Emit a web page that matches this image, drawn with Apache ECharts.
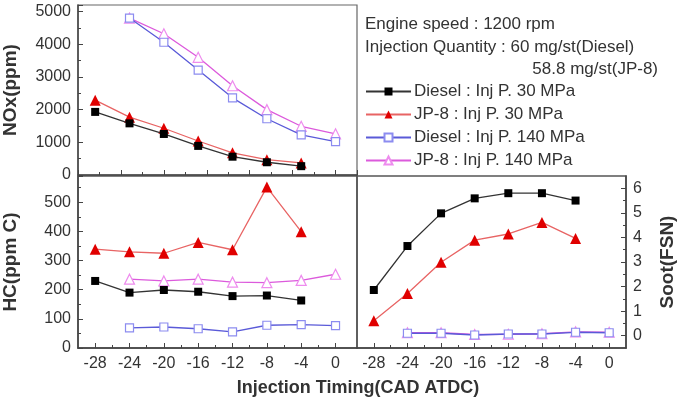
<!DOCTYPE html>
<html>
<head>
<meta charset="utf-8">
<script src="https://cdn.jsdelivr.net/npm/echarts@6/dist/echarts.min.js"></script>
<style>
html, body { margin: 0; padding: 0; background: #fff; }
#main { width: 678px; height: 400px; }
</style>
</head>
<body>
<div id="main"></div>
<script>
// injection timing (CAD ATDC)
var timing30 = [-28, -24, -20, -16, -12, -8, -4];
var timing140 = [-24, -20, -16, -12, -8, -4, 0];
var timingTicks = [-28, -24, -20, -16, -12, -8, -4, 0];
var timingMinor = [-26, -22, -18, -14, -10, -6, -2];

// NOx (ppm)
var noxDiesel30 = [1930, 1580, 1255, 890, 560, 390, 270];
var noxJp30 = [2290, 1770, 1430, 1040, 680, 470, 370];
var noxDiesel140 = [4800, 4060, 3210, 2360, 1720, 1230, 1020];
var noxJp140 = [4800, 4320, 3600, 2730, 2000, 1490, 1260];

// HC (ppm C)
var hcDiesel30 = [230, 190, 199, 193, 178, 180, 163];
var hcJp30 = [339, 330, 325, 362, 337, 552, 399];
var hcDiesel140 = [69, 72, 66, 55, 78, 80, 77];
var hcJp140 = [236, 230, 236, 226, 224, 232, 253];

// Soot (FSN)
var sootDiesel30 = [1.86, 3.65, 4.98, 5.59, 5.80, 5.80, 5.50];
var sootJp30 = [0.61, 1.72, 2.99, 3.89, 4.14, 4.61, 3.96];
var sootDiesel140 = [0.10, 0.10, 0.03, 0.07, 0.07, 0.14, 0.12];
var sootJp140 = [0.12, 0.12, 0.05, 0.06, 0.08, 0.16, 0.14];
var sootTicks = [0, 1, 2, 3, 4, 5, 6];
var sootMinor = [0.5, 1.5, 2.5, 3.5, 4.5, 5.5];

var seriesNames = ['Diesel : Inj P. 30 MPa', 'JP-8 : Inj P. 30 MPa', 'Diesel : Inj P. 140 MPa', 'JP-8 : Inj P. 140 MPa'];

var FONT = 'Liberation Sans, Arial, sans-serif';

/* 线型与标记 */
var styles = [
	{ line: '#333333', symbol: 'rect', size: 8, fill: '#000000', border: '#000000' },
	{ line: '#e86464', symbol: 'triangle', size: 11, fill: '#e00000', border: '#e00000' },
	{ line: '#5a5ad8', symbol: 'rect', size: 8, fill: '#ffffff', border: '#8c8cf0' },
	{ line: '#dc5adc', symbol: 'triangle', size: 10, fill: '#ffffff', border: '#ee8cee' }
];

function pairs(xs, ys) {
	return xs.map(function(x, i) { return [x, ys[i]]; });
}

function makeSeries(k, xi, yi, xs, ys) {
	var s = styles[k];
	return {
		name: seriesNames[k],
		type: 'line',
		xAxisIndex: xi,
		yAxisIndex: yi,
		symbol: s.symbol,
		symbolSize: s.size,
		showAllSymbol: true,
		data: pairs(xs, ys),
		lineStyle: { color: s.line, width: 1.3 },
		itemStyle: { color: s.fill, borderColor: s.border, borderWidth: s.fill === '#ffffff' ? 1.2 : 0 },
		emphasis: { disabled: true },
		z: 3 + (3 - k)
	};
}

function plain(v) {
	return String(v);
}

var axisLine = { onZero: false, lineStyle: { color: '#444', width: 1.5 } };
var nameStyle = { color: '#333', fontSize: 19, fontFamily: FONT, fontWeight: 'bold' };

function majorX(grid, max, show) {
	return {
		type: 'value', gridIndex: grid, position: 'bottom', min: -30, max: max, interval: 2,
		axisLine: axisLine,
		axisTick: { inside: true, length: 5, customValues: timingTicks, lineStyle: { color: '#444' } },
		axisLabel: { show: show, customValues: timingTicks, margin: 8, color: '#333', fontSize: 16, fontFamily: FONT, formatter: plain },
		splitLine: { show: false }
	};
}
function minorX(grid, max) {
	return {
		type: 'value', gridIndex: grid, position: 'bottom', min: -30, max: max, interval: 2,
		axisLine: { show: false, onZero: false },
		axisTick: { inside: true, length: 3, customValues: timingMinor, lineStyle: { color: '#444' } },
		axisLabel: { show: false },
		splitLine: { show: false }
	};
}

var myChart = echarts.init(document.getElementById('main'));

var option = {
	animation: false,
	backgroundColor: '#fff',
	textStyle: { fontFamily: FONT },
	grid: [
		{ left: 75, top: 5, width: 282, height: 170, show: true, borderColor: '#666', borderWidth: 1.2 },
		{ left: 75, top: 176, width: 282, height: 172, show: true, borderColor: '#555', borderWidth: 1.5 },
		{ left: 357, top: 176, width: 280, height: 172, show: true, borderColor: '#555', borderWidth: 1.5 }
	],
	legend: {
		orient: 'vertical',
		left: 365,
		top: 83,
		padding: 0,
		itemWidth: 45,
		itemHeight: 10,
		itemGap: 6,
		data: seriesNames,
		selectedMode: false,
		textStyle: { color: '#333', fontSize: 17, lineHeight: 17, fontFamily: FONT, padding: [0, 0, 0, -2] }
	},
	xAxis: [
		{
			type: 'value', gridIndex: 0, position: 'bottom', min: -30, max: 2.5, interval: 5,
			axisLine: axisLine,
			axisTick: { inside: true, length: 5, lineStyle: { color: '#444' } },
			minorTick: { show: true, splitNumber: 2, length: 3, lineStyle: { color: '#444' } },
			axisLabel: { show: false },
			splitLine: { show: false }
		},
		majorX(1, 2.5, true),
		minorX(1, 2.5),
		majorX(2, 2, true),
		minorX(2, 2)
	],
	yAxis: [
		{
			type: 'value', gridIndex: 0, position: 'left', min: 0, max: 5200, interval: 1000,
			name: 'NOx(ppm)', nameLocation: 'middle', nameGap: 58, nameRotate: 90, nameTextStyle: nameStyle,
			axisLine: axisLine,
			axisTick: { inside: true, length: 5, lineStyle: { color: '#444' } },
			minorTick: { show: true, splitNumber: 2, length: 3, lineStyle: { color: '#444' } },
			axisLabel: { showMaxLabel: false, margin: 7, color: '#333', fontSize: 16, fontFamily: FONT, formatter: plain },
			splitLine: { show: false }
		},
		{
			type: 'value', gridIndex: 1, position: 'left', min: 0, max: 590, interval: 100,
			name: 'HC(ppm C)', nameLocation: 'middle', nameGap: 58, nameRotate: 90, nameTextStyle: nameStyle,
			axisLine: axisLine,
			axisTick: { inside: true, length: 5, lineStyle: { color: '#444' } },
			minorTick: { show: true, splitNumber: 2, length: 3, lineStyle: { color: '#444' } },
			axisLabel: { showMaxLabel: false, margin: 7, color: '#333', fontSize: 16, fontFamily: FONT, formatter: plain },
			splitLine: { show: false }
		},
		{
			type: 'value', gridIndex: 2, position: 'right', min: -0.5, max: 6.5, interval: 0.5,
			name: 'Soot(FSN)', nameLocation: 'middle', nameGap: 32, nameRotate: 90, nameTextStyle: nameStyle,
			axisLine: axisLine,
			axisTick: { inside: true, length: 5, customValues: sootTicks, lineStyle: { color: '#444' } },
			axisLabel: { customValues: sootTicks, margin: 7, color: '#333', fontSize: 16, fontFamily: FONT, formatter: plain },
			splitLine: { show: false }
		},
		{
			type: 'value', gridIndex: 2, position: 'right', min: -0.5, max: 6.5, interval: 0.5,
			axisLine: { show: false, onZero: false },
			axisTick: { inside: true, length: 3, customValues: sootMinor, lineStyle: { color: '#444' } },
			axisLabel: { show: false },
			splitLine: { show: false }
		}
	],
	graphic: [
		{ type: 'text', left: 365, top: 16, style: { text: 'Engine speed : 1200 rpm', fill: '#333', font: '17px ' + FONT } },
		{ type: 'text', left: 365, top: 39, style: { text: 'Injection Quantity : 60 mg/st(Diesel)', fill: '#333', font: '17px ' + FONT } },
		{ type: 'text', right: 20, top: 61, style: { text: '58.8 mg/st(JP-8)', fill: '#333', font: '17px ' + FONT } },
		{ type: 'text', x: 358, y: 388, style: { text: 'Injection Timing(CAD ATDC)', fill: '#333', font: 'bold 18px ' + FONT, textAlign: 'center', textVerticalAlign: 'middle' } }
	],
	series: [
		makeSeries(0, 0, 0, timing30, noxDiesel30),
		makeSeries(1, 0, 0, timing30, noxJp30),
		makeSeries(2, 0, 0, timing140, noxDiesel140),
		makeSeries(3, 0, 0, timing140, noxJp140),
		makeSeries(0, 1, 1, timing30, hcDiesel30),
		makeSeries(1, 1, 1, timing30, hcJp30),
		makeSeries(2, 1, 1, timing140, hcDiesel140),
		makeSeries(3, 1, 1, timing140, hcJp140),
		makeSeries(0, 3, 2, timing30, sootDiesel30),
		makeSeries(1, 3, 2, timing30, sootJp30),
		makeSeries(2, 3, 2, timing140, sootDiesel140),
		makeSeries(3, 3, 2, timing140, sootJp140)
	]
};

myChart.setOption(option);
</script>
</body>
</html>
